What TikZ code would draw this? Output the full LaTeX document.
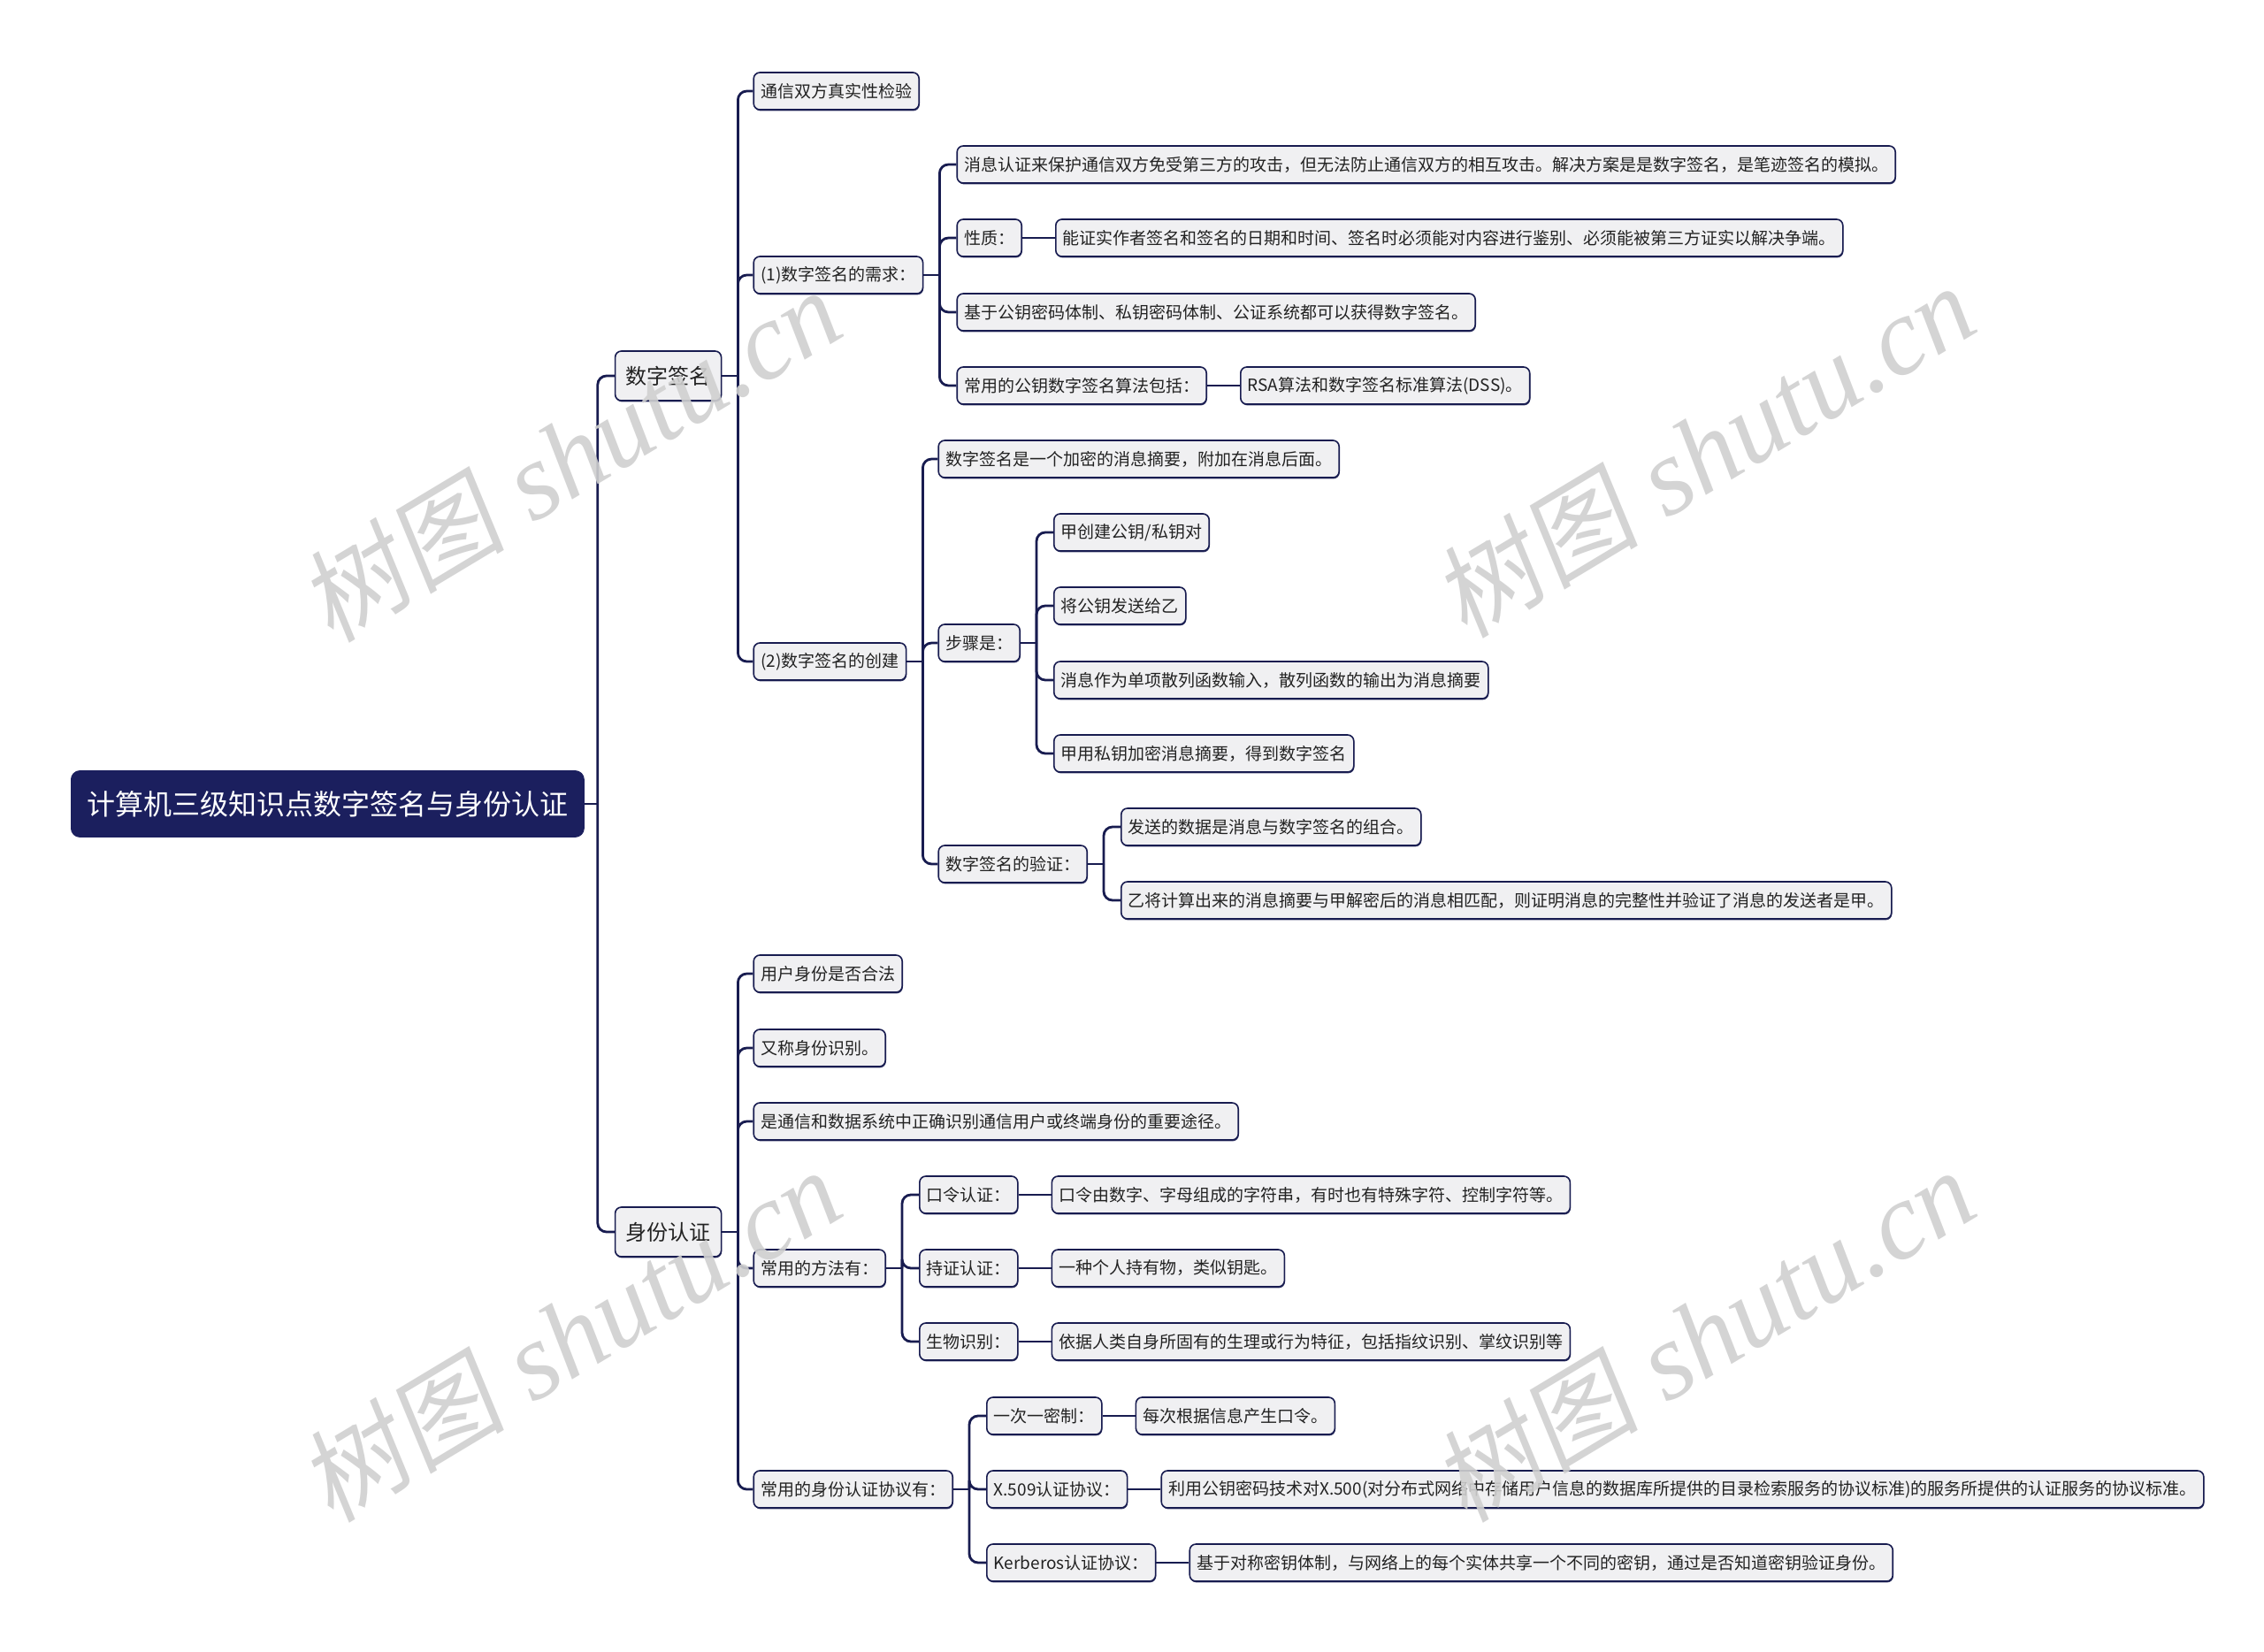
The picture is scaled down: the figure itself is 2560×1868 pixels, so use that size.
\documentclass[tikz,border=0pt]{standalone}
\usepackage{fontspec}
\setmainfont{Noto Sans CJK SC}
\newfontfamily\wmlatin{Liberation Serif}
\newfontfamily\wmcjk[FakeSlant=0.15]{Noto Sans CJK SC}
\usetikzlibrary{calc,shadows}
\definecolor{navy}{RGB}{27,31,94}
\definecolor{linec}{RGB}{24,28,80}
\definecolor{leaffill}{RGB}{240,240,242}
\definecolor{wmc}{RGB}{208,208,208}
\definecolor{txt}{RGB}{34,34,34}
\tikzset{
  base/.style={draw=linec, line width=0.8pt, fill=leaffill, rounded corners=3.5pt,
    text=txt, anchor=west,
    drop shadow={shadow xshift=0.3pt, shadow yshift=-0.7pt, fill=linec, opacity=0.85}},
  leaf/.style={base, font=\fontsize{9.5}{11}\selectfont, minimum height=21pt,
    inner xsep=4pt, inner ysep=0pt},
  lone/.style={base, font=\fontsize{12}{14}\selectfont, minimum height=28pt,
    inner xsep=6pt, inner ysep=0pt},
  rootbox/.style={fill=navy, draw=navy, text=white, rounded corners=5pt,
    font=\fontsize{16}{19}\selectfont, minimum height=37.5pt, inner xsep=9pt,
    inner ysep=0pt, anchor=west},
  conn/.style={draw=linec, line width=1.4pt, rounded corners=5pt},
  wmark/.style={text=wmc, opacity=0.9, rotate=31, inner sep=0pt}
}
\begin{document}
\begin{tikzpicture}[x=0.5pt, y=-0.5pt]
\fill[white] (0,0) rectangle (2560,1868);
\useasboundingbox (0,0) rectangle (2560,1868);

% root and level 1
\node[rootbox] (root) at (80,909) {计算机三级知识点数字签名与身份认证};
\node[lone] (ds) at ($(root.east)+(34,{425-909})$) {数字签名};
\node[lone] (sf) at ($(root.east)+(34,{1393-909})$) {身份认证};

% 数字签名 branch
\node[leaf] (a0) at ($(ds.east)+(35,{103-425})$) {通信双方真实性检验};
\node[leaf] (a1) at ($(ds.east)+(35,{311-425})$) {(1)数字签名的需求：};
\node[leaf] (a2) at ($(ds.east)+(35,{748-425})$) {(2)数字签名的创建};

\node[leaf] (b1) at ($(a1.east)+(37,{186-311})$) {消息认证来保护通信双方免受第三方的攻击，但无法防止通信双方的相互攻击。解决方案是是数字签名，是笔迹签名的模拟。};
\node[leaf] (b2) at ($(a1.east)+(37,{269-311})$) {性质：};
\node[leaf] (b2c) at ($(b2.east)+(37,0)$) {能证实作者签名和签名的日期和时间、签名时必须能对内容进行鉴别、必须能被第三方证实以解决争端。};
\node[leaf] (b3) at ($(a1.east)+(37,{353-311})$) {基于公钥密码体制、私钥密码体制、公证系统都可以获得数字签名。};
\node[leaf] (b4) at ($(a1.east)+(37,{436-311})$) {常用的公钥数字签名算法包括：};
\node[leaf] (b4c) at ($(b4.east)+(37,0)$) {RSA算法和数字签名标准算法(DSS)。};

\node[leaf] (c1) at ($(a2.east)+(35,{519-748})$) {数字签名是一个加密的消息摘要，附加在消息后面。};
\node[leaf] (c2) at ($(a2.east)+(35,{727-748})$) {步骤是：};
\node[leaf] (c3) at ($(a2.east)+(35,{977-748})$) {数字签名的验证：};

\node[leaf] (d1) at ($(c2.east)+(37,{602-727})$) {甲创建公钥/私钥对};
\node[leaf] (d2) at ($(c2.east)+(37,{685-727})$) {将公钥发送给乙};
\node[leaf] (d3) at ($(c2.east)+(37,{769-727})$) {消息作为单项散列函数输入，散列函数的输出为消息摘要};
\node[leaf] (d4) at ($(c2.east)+(37,{852-727})$) {甲用私钥加密消息摘要，得到数字签名};

\node[leaf] (e1) at ($(c3.east)+(37,{935-977})$) {发送的数据是消息与数字签名的组合。};
\node[leaf] (e2) at ($(c3.east)+(37,{1018-977})$) {乙将计算出来的消息摘要与甲解密后的消息相匹配，则证明消息的完整性并验证了消息的发送者是甲。};

% 身份认证 branch
\node[leaf] (f1) at ($(sf.east)+(35,{1101-1393})$) {用户身份是否合法};
\node[leaf] (f2) at ($(sf.east)+(35,{1185-1393})$) {又称身份识别。};
\node[leaf] (f3) at ($(sf.east)+(35,{1268-1393})$) {是通信和数据系统中正确识别通信用户或终端身份的重要途径。};
\node[leaf] (f4) at ($(sf.east)+(35,{1434-1393})$) {常用的方法有：};
\node[leaf] (f5) at ($(sf.east)+(35,{1684-1393})$) {常用的身份认证协议有：};

\node[leaf] (g1) at ($(f4.east)+(37,{1351-1434})$) {口令认证：};
\node[leaf] (g2) at ($(f4.east)+(37,0)$) {持证认证：};
\node[leaf] (g3) at ($(f4.east)+(37,{1517-1434})$) {生物识别：};
\node[leaf] (g1c) at ($(g1.east)+(37,0)$) {口令由数字、字母组成的字符串，有时也有特殊字符、控制字符等。};
\node[leaf] (g2c) at ($(g2.east)+(37,0)$) {一种个人持有物，类似钥匙。};
\node[leaf] (g3c) at ($(g3.east)+(37,0)$) {依据人类自身所固有的生理或行为特征，包括指纹识别、掌纹识别等};

\node[leaf] (h1) at ($(f5.east)+(37,{1601-1684})$) {一次一密制：};
\node[leaf] (h2) at ($(f5.east)+(37,0)$) {X.509认证协议：};
\node[leaf] (h3) at ($(f5.east)+(37,{1767-1684})$) {Kerberos认证协议：};
\node[leaf] (h1c) at ($(h1.east)+(37,0)$) {每次根据信息产生口令。};
\node[leaf] (h2c) at ($(h2.east)+(37,0)$) {利用公钥密码技术对X.500(对分布式网络中存储用户信息的数据库所提供的目录检索服务的协议标准)的服务所提供的认证服务的协议标准。};
\node[leaf] (h3c) at ($(h3.east)+(37,0)$) {基于对称密钥体制，与网络上的每个实体共享一个不同的密钥，通过是否知道密钥验证身份。};

% connectors
\draw[conn] (root.east) -- ++(15,0) coordinate (root-J);
\foreach \c in {ds,sf} \draw[conn] (root-J) |- (\c.west);
\foreach \p/\cs in {ds/{a0,a1,a2}, a1/{b1,b2,b3,b4}, a2/{c1,c2,c3},
    c2/{d1,d2,d3,d4}, c3/{e1,e2}, sf/{f1,f2,f3,f4,f5}, f4/{g1,g2,g3}, f5/{h1,h2,h3}}{
  \draw[conn] (\p.east) -- ++(18,0) coordinate (\p-J);
  \foreach \c in \cs \draw[conn] (\p-J) |- (\c.west);
}
\foreach \p in {b2,b4,g1,g2,g3,h1,h2,h3} \draw[conn] (\p.east) -- (\p c.west);

% watermarks
\foreach \wx/\wy in {645/515, 1927/510, 645/1510, 1927/1510}
  \node[wmark] at (\wx,\wy) {{\wmcjk\fontsize{58}{62}\selectfont 树图}\hspace{16pt}{\wmlatin\itshape\fontsize{62}{66}\selectfont shutu.cn}};
\end{tikzpicture}
\end{document}
